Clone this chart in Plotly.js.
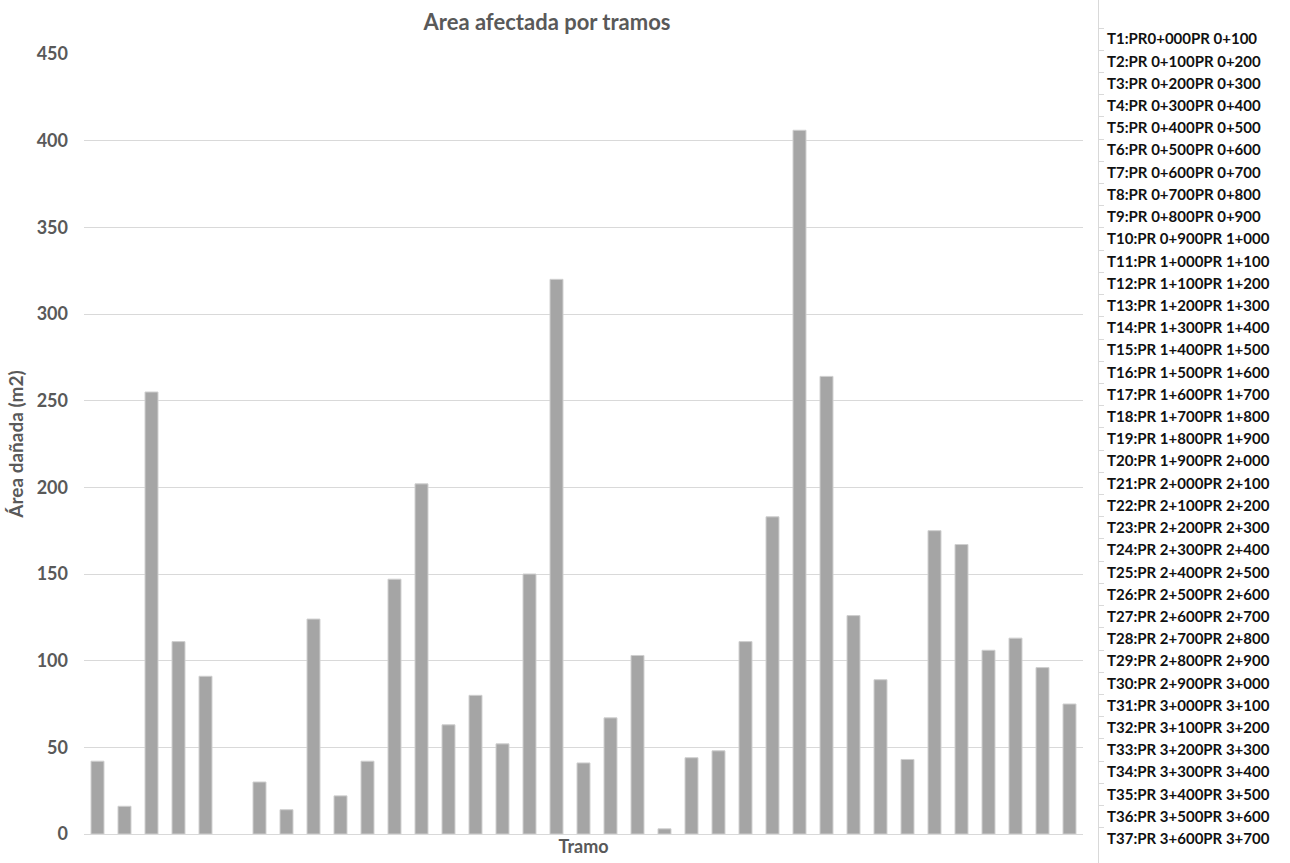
<!DOCTYPE html>
<html>
<head>
<meta charset="utf-8">
<script src="https://cdn.plot.ly/plotly-3.0.1.min.js"></script>
<style>html,body{margin:0;padding:0;background:#fff}#chart{width:1290px;height:863px}</style>
</head>
<body>
<div id="chart"></div>
<script>
const tramos = ["T1","T2","T3","T4","T5","T6","T7","T8","T9","T10","T11","T12","T13","T14","T15","T16","T17","T18","T19","T20","T21","T22","T23","T24","T25","T26","T27","T28","T29","T30","T31","T32","T33","T34","T35","T36","T37"];
const areaDanada = [42, 16, 255, 111, 91, 0, 30, 14, 124, 22, 42, 147, 202, 63, 80, 52, 150, 320, 41, 67, 103, 3, 44, 48, 111, 183, 406, 264, 126, 89, 43, 175, 167, 106, 113, 96, 75];
const tramoLabels = [
  "T1:PR0+000PR 0+100","T2:PR 0+100PR 0+200","T3:PR 0+200PR 0+300","T4:PR 0+300PR 0+400",
  "T5:PR 0+400PR 0+500","T6:PR 0+500PR 0+600","T7:PR 0+600PR 0+700","T8:PR 0+700PR 0+800",
  "T9:PR 0+800PR 0+900","T10:PR 0+900PR 1+000","T11:PR 1+000PR 1+100","T12:PR 1+100PR 1+200",
  "T13:PR 1+200PR 1+300","T14:PR 1+300PR 1+400","T15:PR 1+400PR 1+500","T16:PR 1+500PR 1+600",
  "T17:PR 1+600PR 1+700","T18:PR 1+700PR 1+800","T19:PR 1+800PR 1+900","T20:PR 1+900PR 2+000",
  "T21:PR 2+000PR 2+100","T22:PR 2+100PR 2+200","T23:PR 2+200PR 2+300","T24:PR 2+300PR 2+400",
  "T25:PR 2+400PR 2+500","T26:PR 2+500PR 2+600","T27:PR 2+600PR 2+700","T28:PR 2+700PR 2+800",
  "T29:PR 2+800PR 2+900","T30:PR 2+900PR 3+000","T31:PR 3+000PR 3+100","T32:PR 3+100PR 3+200",
  "T33:PR 3+200PR 3+300","T34:PR 3+300PR 3+400","T35:PR 3+400PR 3+500","T36:PR 3+500PR 3+600",
  "T37:PR 3+600PR 3+700"
];
const yTicks = [0, 50, 100, 150, 200, 250, 300, 350, 400, 450];

const W = 1290, H = 863;
const px = v => v / W, py = v => (H - v) / H;

const bars = {
  type: "bar",
  x: tramos,
  y: areaDanada,
  xaxis: "x", yaxis: "y",
  marker: {
    color: "#a5a5a5",
    line: {color: areaDanada.map(v => v > 0 ? "#cfcfcf" : "rgba(0,0,0,0)"), width: 1}
  },
  hoverinfo: "x+y",
  showlegend: false
};
const labelTrace = {
  type: "scatter",
  mode: "markers",
  x: tramoLabels.map(() => 0),
  y: tramoLabels,
  xaxis: "x2", yaxis: "y2",
  marker: {opacity: 0},
  hoverinfo: "skip",
  showlegend: false
};

const cellTop = 28, cellBot = 850;
const cellH = (cellBot - cellTop) / tramoLabels.length;
const lblTop = -0.5 - (cellTop - 0) / cellH;
const lblBot = tramoLabels.length - 0.5 + (H - cellBot) / cellH;

const layout = {
  width: W, height: H,
  margin: {l: 0, r: 0, t: 0, b: 0},
  paper_bgcolor: "#fff", plot_bgcolor: "rgba(0,0,0,0)",
  font: {family: "Lato, 'Open Sans', sans-serif", color: "#595959"},
  title: {
    text: "<b>Area afectada por tramos</b>",
    font: {size: 22, color: "#595959", family: "Lato, sans-serif"},
    x: px(547), xref: "paper", xanchor: "center",
    y: 1 - 22 / H, yref: "container", yanchor: "middle"
  },
  bargap: 0.52,
  xaxis: {
    domain: [px(84), px(1083)],
    type: "category",
    range: [-0.5, tramos.length - 0.5],
    showticklabels: false,
    showgrid: false, zeroline: false,
    showline: false, ticks: "",
    title: {text: "<b>Tramo</b>", font: {size: 18, color: "#595959"}, standoff: 6},
    fixedrange: true
  },
  yaxis: {
    domain: [py(834), py(54)],
    range: [0, 450],
    tickvals: yTicks,
    ticktext: yTicks.map(v => "<b>" + v + "</b>"),
    tickfont: {size: 18, color: "#595959"},
    ticklabelstandoff: 15,
    showgrid: true, gridcolor: "#d9d9d9", gridwidth: 1,
    zeroline: true, zerolinecolor: "#d9d9d9", zerolinewidth: 1,
    showline: false, ticks: "",
    title: {text: "<b>Área dañada (m2)</b>", font: {size: 19, color: "#595959"}, standoff: 8},
    automargin: false,
    fixedrange: true
  },
  xaxis2: {
    domain: [px(1110), 1],
    anchor: "y2",
    range: [-1, 1],
    visible: false,
    fixedrange: true
  },
  yaxis2: {
    domain: [0, 1],
    anchor: "free",
    position: px(1098),
    side: "right",
    type: "category",
    range: [lblBot, lblTop],
    tickson: "boundaries",
    ticks: "outside", ticklen: 5, tickcolor: "#d9d9d9",
    showline: true, linecolor: "#d9d9d9", linewidth: 1,
    showgrid: false, zeroline: false,
    tickfont: {size: 15, color: "#111111", family: "Lato, sans-serif", weight: "bold"},
    ticklabelstandoff: 5,
    fixedrange: true
  }
};

Plotly.newPlot("chart", [bars, labelTrace], layout, {displayModeBar: false, staticPlot: false});
</script>
</body>
</html>
